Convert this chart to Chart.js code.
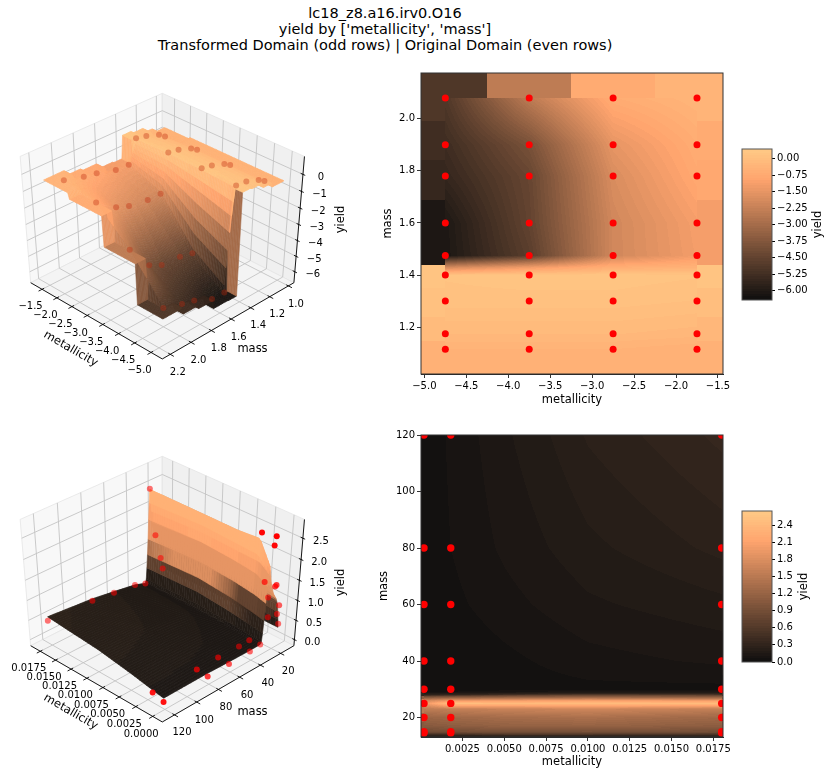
<!DOCTYPE html>
<html>
<head>
<meta charset="utf-8">
<script src="https://cdn.jsdelivr.net/npm/chart.js@4/dist/chart.umd.min.js"></script>
<style>
  html, body { margin: 0; background: #fff; }
  body { width: 830px; height: 775px; position: relative; overflow: hidden; font-family: "DejaVu Sans", sans-serif; }
  canvas { position: absolute; }
  #title { position: absolute; left: 0; top: 5px; width: 770px; text-align: center; font-size: 14.5px; line-height: 16px; color: #000; }
</style>
</head>
<body>
<div id="title">lc18_z8.a16.irv0.O16<br>yield by ['metallicity', 'mass']<br>Transformed Domain (odd rows) | Original Domain (even rows)</div>
<canvas id="surfTop" width="370" height="340" style="left:0;top:60px"></canvas>
<canvas id="mapTop" width="355" height="348" style="left:380px;top:60px"></canvas>
<canvas id="barTop" width="90" height="170" style="left:740px;top:140px"></canvas>
<canvas id="surfBottom" width="370" height="340" style="left:0;top:423px"></canvas>
<canvas id="mapBottom" width="359" height="345" style="left:376px;top:425px"></canvas>
<canvas id="barBottom" width="90" height="170" style="left:740px;top:502px"></canvas>
<script>
// transformed domain
const topMetallicity = [-4.75, -3.75, -2.75, -1.75];
const topDotMass = [1.115, 1.175, 1.3, 1.4, 1.475, 1.6, 1.78, 1.9, 2.08];
const topKnotMass = [1.115, 1.175, 1.3, 1.4, 1.43, 1.475, 1.6, 1.78, 1.9, 2.08];
const topYield = [
  [-0.42, -0.42, -0.42, -0.52],
  [-0.18, -0.18, -0.18, -0.25],
  [0.10, 0.10, 0.10, 0.03],
  [0.17, 0.23, 0.23, 0.17],
  [-1.96, -1.28, -0.59, -0.45],
  [-6.12, -4.70, -2.00, -1.20],
  [-6.09, -4.50, -2.00, -1.14],
  [-5.54, -4.40, -1.80, -0.80],
  [-5.33, -4.00, -1.50, -0.66],
  [-4.92, -2.45, -0.66, -0.32]
];
const topXTicks = [-5, -4.5, -4, -3.5, -3, -2.5, -2, -1.5];
const topYTicks = [1.2, 1.4, 1.6, 1.8, 2.0];
const topBarTicks = [0, -0.75, -1.5, -2.25, -3, -3.75, -4.5, -5.25, -6];
const topZTicks = [0, -1, -2, -3, -4, -5, -6];
const topSurfMass = [1.0, 1.2, 1.4, 1.6, 1.8, 2.0, 2.2];

// original domain
const bottomMetallicity = [0.0002, 0.0018, 0.005, 0.01, 0.018];
const bottomDotMetallicity = [0.0002, 0.0018, 0.018];
const bottomDotMass = [14.5, 15, 20, 25, 30, 40, 60, 80, 120];
const bottomKnotMass = [13, 14, 15, 17, 20, 23, 25, 26, 27, 28, 29, 30, 40, 60, 80, 120];
const bottomYield = [
  [0.27, 0.27, 0.32, 0.34, 0.32],
  [0.58, 0.61, 0.66, 0.66, 0.64],
  [0.87, 0.90, 0.93, 0.95, 0.90],
  [1.06, 1.11, 1.17, 1.19, 1.11],
  [1.22, 1.27, 1.33, 1.38, 1.27],
  [1.54, 1.59, 1.64, 1.70, 1.59],
  [1.95, 2.50, 2.45, 2.45, 2.45],
  [1.70, 1.95, 2.01, 2.07, 1.99],
  [1.11, 1.19, 1.27, 1.33, 1.27],
  [0.48, 0.53, 0.64, 0.74, 0.69],
  [0.13, 0.16, 0.21, 0.27, 0.24],
  [0.08, 0.08, 0.11, 0.13, 0.13],
  [0.08, 0.09, 0.13, 0.19, 0.23],
  [0.09, 0.13, 0.19, 0.27, 0.33],
  [0.11, 0.15, 0.23, 0.33, 0.42],
  [0.11, 0.16, 0.27, 0.41, 0.53]
];
const bottomXTicks = [0.0025, 0.005, 0.0075, 0.01, 0.0125, 0.015, 0.0175];
const bottomYTicks = [20, 40, 60, 80, 100, 120];
const bottomBarTicks = [0, 0.3, 0.6, 0.9, 1.2, 1.5, 1.8, 2.1, 2.4];
const bottomSurfX = [0, 0.0025, 0.005, 0.0075, 0.01, 0.0125, 0.015, 0.0175];
const bottomSurfMass = [20, 40, 60, 80, 100, 120];
const bottomZTicks = [0, 0.5, 1, 1.5, 2, 2.5];
// measured scatter of the lower 3D panel
const scatterMetallicity = [
  0.018, 0.018, 0.018, 0.018, 0.018, 0.018, 0.018, 0.018, 0.018,
  0.0018, 0.0018, 0.0018, 0.0018, 0.0018, 0.0018, 0.0018, 0.0018, 0.0018,
  0.0002, 0.0002, 0.0002, 0.0002, 0.0002, 0.0002, 0.0002, 0.0002, 0.0002, 0.0002, 0.0002, 0.0002
];
const scatterMass = [
  120, 80, 60, 40, 30, 25, 20, 15, 13,
  120, 80, 60, 40, 30, 23.5, 18, 13.5, 12.5,
  120, 80, 60, 40, 30, 22, 20.6, 18.8, 17.5, 15, 13.4, 13
];
const scatterYield = [
  0.43, 0.37, 0.30, 0.23, 0.13, 2.45, 1.25, 0.60, 0.30,
  0.10, 0.05, 0.05, 0.03, 0.04, 2.60, 1.35, 0.90, 0.38,
  0.01, 0.02, 0.03, 0.05, 0.08, 2.40, 2.60, 1.38, 1.40, 0.64, 0.84, 0.36
];
// colour of the lower surface follows height unevenly
const toneYield = [0, 0.1, 0.55, 0.65, 1.0, 1.08, 1.8, 2.0, 2.4];
const toneLevel = [0.02, 0.05, 0.10, 0.26, 0.28, 0.68, 0.74, 0.82, 0.88];
// and the lower map is darker than its low yields suggest
const mapToneYield = [0, 0.13, 0.33, 0.53, 0.8, 2.65];
const mapToneLevel = [0.0, 0.02, 0.07, 0.13, 0.30, 1.0];

const BAR_LEVELS = 60;
const topRange = [-6.43, 0.44];
const bottomRange = [0, 2.65];
const tickFont = { family: 'DejaVu Sans', size: 10 };
const labelFont = { family: 'DejaVu Sans', size: 11.5 };

function copper(v, range) {
  let t = (v - range[0]) / (range[1] - range[0]);
  t = Math.max(0, Math.min(1, Math.round(t * BAR_LEVELS) / BAR_LEVELS));
  const shade = a => 14 + Math.min(1, a) * 241;
  return [shade(1.25 * t), shade(0.7812 * t), shade(0.4975 * t)];
}

function nearestIndex(list, v) {
  let best = 0;
  list.forEach((p, i) => { if (Math.abs(p - v) < Math.abs(list[best] - v)) best = i; });
  return best;
}

function bracket(list, v) {
  let i = 0;
  while (i < list.length - 2 && v > list[i + 1]) i++;
  return i;
}

// griddata look: linear inside the samples, nearest sample outside
function fieldAt(table, x, y) {
  const { xs, ys, zs, nearY } = table;
  if (x < xs[0] || x > xs[xs.length - 1] || y < ys[0] || y > ys[ys.length - 1]) {
    const row = ys.indexOf(nearY[nearestIndex(nearY, y)]);
    return zs[row][nearestIndex(xs, x)];
  }
  const i = bracket(xs, x), j = bracket(ys, y);
  const a = (x - xs[i]) / (xs[i + 1] - xs[i]), b = (y - ys[j]) / (ys[j + 1] - ys[j]);
  return (zs[j][i] * (1 - a) + zs[j][i + 1] * a) * (1 - b) + (zs[j + 1][i] * (1 - a) + zs[j + 1][i + 1] * a) * b;
}

const topTable = { xs: topMetallicity, ys: topKnotMass, zs: topYield, nearY: topDotMass };
const bottomTable = { xs: bottomMetallicity, ys: bottomKnotMass, zs: bottomYield, nearY: bottomKnotMass };

function fmt(d) {
  return v => v.toFixed(d).replace('-', '\u2212');
}

function toneOf(v, from, to) {
  if (v <= from[0]) return to[0];
  const i = bracket(from, v);
  const a = Math.min(1, (v - from[i]) / (from[i + 1] - from[i]));
  return to[i] + (to[i + 1] - to[i]) * a;
}

function axisBox(ticks, digits, title, fit) {
  return {
    type: 'linear',
    afterBuildTicks: s => { s.ticks = ticks.map(v => ({ value: v })); },
    afterFit: fit,
    grid: { display: true, drawOnChartArea: false, drawTicks: true, tickLength: 4, tickColor: '#000', tickWidth: 0.8 },
    border: { color: '#222', width: 1 },
    ticks: { color: '#000', font: tickFont, padding: 2, maxRotation: 0, autoSkip: false, callback: fmt(digits) },
    title: { display: true, text: title, color: '#000', font: labelFont, padding: { top: 1, bottom: 1 } }
  };
}

const heatPlugin = {
  id: 'heat',
  beforeDatasetsDraw(chart, args, opts) {
    const { ctx, chartArea: a, scales } = chart;
    const w = Math.round(a.right - a.left), h = Math.round(a.bottom - a.top);
    const img = ctx.createImageData(w, h);
    const span = opts.range[1] - opts.range[0];
    for (let py = 0; py < h; py++) {
      const my = scales.y.getValueForPixel(a.top + py + 0.5);
      for (let px = 0; px < w; px++) {
        const mx = scales.x.getValueForPixel(a.left + px + 0.5);
        let v = fieldAt(opts.table, mx, my);
        if (opts.toned) v = opts.range[0] + toneOf(v, mapToneYield, mapToneLevel) * span;
        const c = copper(v, opts.range);
        const k = (py * w + px) * 4;
        img.data[k] = c[0]; img.data[k + 1] = c[1]; img.data[k + 2] = c[2]; img.data[k + 3] = 255;
      }
    }
    ctx.putImageData(img, Math.round(a.left), Math.round(a.top));
  },
  afterDraw(chart) {
    const { ctx, chartArea: a } = chart;
    ctx.strokeStyle = '#333';
    ctx.lineWidth = 1;
    ctx.strokeRect(a.left, a.top, a.right - a.left, a.bottom - a.top);
  }
};

function makeMap(id, table, range, dotX, dotY, xCfg, yCfg, margin) {
  const points = [];
  dotY.forEach(m => dotX.forEach(x => points.push({ x, y: m })));
  new Chart(document.getElementById(id), {
    type: 'scatter',
    data: { datasets: [{ data: points, pointRadius: margin.dot, pointBackgroundColor: '#ff0000', pointBorderWidth: 0 }] },
    plugins: [heatPlugin],
    options: {
      responsive: false, animation: false, devicePixelRatio: 1,
      layout: { autoPadding: false, padding: { top: margin.top, right: margin.right, left: 0, bottom: 0 } },
      plugins: { legend: { display: false }, tooltip: { enabled: false }, heat: { table, range, toned: margin.toned } },
      scales: {
        x: Object.assign(axisBox(xCfg.ticks, xCfg.digits, 'metallicity', s => { s.height = margin.bottom; }), { min: xCfg.min, max: xCfg.max }),
        y: Object.assign(axisBox(yCfg.ticks, yCfg.digits, 'mass', s => { s.width = margin.left; }), { min: yCfg.min, max: yCfg.max })
      }
    }
  });
}

const barPlugin = {
  id: 'bar',
  beforeDatasetsDraw(chart, args, opts) {
    const { ctx, chartArea: a, scales } = chart;
    for (let py = Math.round(a.top); py < a.bottom; py++) {
      const c = copper(scales.y.getValueForPixel(py + 0.5), opts.range);
      ctx.fillStyle = `rgb(${c[0]},${c[1]},${c[2]})`;
      ctx.fillRect(a.left, py, a.right - a.left, 1);
    }
  },
  afterDraw(chart, args, opts) {
    const { ctx, chartArea: a } = chart;
    ctx.strokeStyle = '#555';
    ctx.lineWidth = 1;
    ctx.strokeRect(a.left, a.top, a.right - a.left, a.bottom - a.top);
    ctx.save();
    ctx.translate(opts.labelX, (a.top + a.bottom) / 2);
    ctx.rotate(-Math.PI / 2);
    ctx.font = '11.5px "DejaVu Sans"';
    ctx.fillStyle = '#000';
    ctx.textAlign = 'center';
    ctx.textBaseline = 'middle';
    ctx.fillText('yield', 0, 0);
    ctx.restore();
  }
};

function makeBar(id, range, ticks, digits, top, labelX) {
  new Chart(document.getElementById(id), {
    type: 'scatter',
    data: { datasets: [{ data: [] }] },
    plugins: [barPlugin],
    options: {
      responsive: false, animation: false, devicePixelRatio: 1,
      layout: { autoPadding: false, padding: { top, left: 2, right: 0, bottom: 170 - top - 151 } },
      plugins: { legend: { display: false }, tooltip: { enabled: false }, bar: { range, labelX } },
      scales: {
        x: { display: false, min: 0, max: 1 },
        y: {
          position: 'right', min: range[0], max: range[1],
          afterBuildTicks: s => { s.ticks = ticks.map(v => ({ value: v })); },
          afterFit: s => { s.width = 58; },
          grid: { display: true, drawOnChartArea: false, tickLength: 3, tickColor: '#000' },
          border: { display: false },
          ticks: { color: '#000', font: tickFont, padding: 2, autoSkip: false, callback: fmt(digits) }
        }
      }
    }
  });
}

// same camera for both 3D panels: seen from low metallicity, high mass side
const ELEV = 38 * Math.PI / 180, DIST = 8, R = Math.SQRT1_2;
const SCALE_X = 193.3, SCALE_Y = 160, CENTER_X = 162.3, CENTER_Y = 162;

function viewUnit(nx, ny, nz) {
  const px = nx - 0.5, py = ny - 0.5, pz = nz - 0.5;
  const u = -R * (px + py);
  const v = Math.sin(ELEV) * R * (px - py) + Math.cos(ELEV) * pz;
  const w = Math.cos(ELEV) * R * (py - px) + Math.sin(ELEV) * pz;
  const f = DIST / (DIST - w);
  return { x: u * f, y: v * f, depth: w };
}

function surfacePlugin(cfg) {
  const normX = v => (v - cfg.xlim[0]) / (cfg.xlim[1] - cfg.xlim[0]);
  const normY = v => (v - cfg.ylim[0]) / (cfg.ylim[1] - cfg.ylim[0]);
  const normZ = v => (v - cfg.zlim[0]) / (cfg.zlim[1] - cfg.zlim[0]);
  return {
    id: 'surface',
    beforeDatasetsDraw(chart) {
      const { ctx, scales } = chart;
      const pt = (nx, ny, nz) => {
        const p = viewUnit(nx, ny, nz);
        return [scales.x.getPixelForValue(p.x), scales.y.getPixelForValue(p.y)];
      };
      const poly = (list, fill, stroke) => {
        ctx.beginPath();
        list.forEach((p, i) => { const q = pt(p[0], p[1], p[2]); i ? ctx.lineTo(q[0], q[1]) : ctx.moveTo(q[0], q[1]); });
        ctx.closePath();
        if (fill) { ctx.fillStyle = fill; ctx.fill(); }
        if (stroke) { ctx.strokeStyle = stroke; ctx.stroke(); }
      };
      const seg = (a, b, color, width) => {
        const p = pt(a[0], a[1], a[2]), q = pt(b[0], b[1], b[2]);
        ctx.strokeStyle = color; ctx.lineWidth = width;
        ctx.beginPath(); ctx.moveTo(p[0], p[1]); ctx.lineTo(q[0], q[1]); ctx.stroke();
      };

      // panes
      ctx.lineWidth = 0.8;
      poly([[1, 0, 0], [1, 1, 0], [1, 1, 1], [1, 0, 1]], '#f8f8f8', '#e4e4e4');
      poly([[0, 0, 0], [1, 0, 0], [1, 0, 1], [0, 0, 1]], '#f0f0f0', '#e4e4e4');
      poly([[0, 0, 0], [1, 0, 0], [1, 1, 0], [0, 1, 0]], '#f4f4f4', '#e4e4e4');

      // grid
      const gridColor = '#c4c4c4';
      cfg.xTicks.forEach(v => {
        const n = normX(v);
        seg([n, 1, 0], [n, 0, 0], gridColor, 0.9);
        seg([n, 0, 0], [n, 0, 1], gridColor, 0.9);
      });
      cfg.yTicks.forEach(v => {
        const n = normY(v);
        seg([0, n, 0], [1, n, 0], gridColor, 0.9);
        seg([1, n, 0], [1, n, 1], gridColor, 0.9);
      });
      cfg.zTicks.forEach(v => {
        const n = normZ(v);
        seg([1, 1, n], [1, 0, n], gridColor, 0.9);
        seg([1, 0, n], [0, 0, n], gridColor, 0.9);
      });

      // axis lines, ticks, labels
      seg([0, 1, 0], [1, 1, 0], '#000', 0.9);
      seg([0, 1, 0], [0, 0, 0], '#000', 0.9);
      seg([0, 0, 0], [0, 0, 1], '#000', 0.9);
      ctx.font = '10px "DejaVu Sans"';
      ctx.fillStyle = '#000';
      ctx.textAlign = 'center';
      ctx.textBaseline = 'middle';
      const fx = fmt(cfg.xDigits), fy = fmt(cfg.yDigits), fz = fmt(cfg.zDigits);
      cfg.xTicks.forEach(v => {
        const n = normX(v);
        seg([n, 0.985, 0], [n, 1.025, 0], '#000', 0.9);
        const q = pt(n, 1, 0);
        ctx.fillText(fx(v), q[0] - 11.5, q[1] + 17.5);
      });
      cfg.yTicks.forEach(v => {
        const n = normY(v);
        seg([0.015, n, 0], [-0.025, n, 0], '#000', 0.9);
        const q = pt(0, n, 0);
        ctx.fillText(fy(v), q[0] + 7.5, q[1] + 18);
      });
      cfg.zTicks.forEach(v => {
        const n = normZ(v);
        seg([0.015, 0, n], [-0.015, 0, n], '#000', 0.9);
        const q = pt(0, 0, n);
        ctx.fillText(fz(v), q[0] + 18, q[1] + 3);
      });
      ctx.font = '11.5px "DejaVu Sans"';
      ctx.fillText('mass', 252.5, 289);
      ctx.save(); ctx.translate(70.7, 289); ctx.rotate(Math.PI / 6); ctx.fillText('metallicity', 0, 0); ctx.restore();
      ctx.save(); ctx.translate(341.5, 159.5); ctx.rotate(-Math.PI / 2); ctx.fillText('yield', 0, 0); ctx.restore();

      // surface quads, far to near
      const quads = [];
      const dx = (cfg.spanX[1] - cfg.spanX[0]) / cfg.meshX, dy = (cfg.spanY[1] - cfg.spanY[0]) / cfg.meshY;
      for (let i = 0; i < cfg.meshX; i++) {
        for (let j = 0; j < cfg.meshY; j++) {
          const xa = cfg.spanX[0] + i * dx, ya = cfg.spanY[0] + j * dy;
          const corners = [[xa, ya], [xa + dx, ya], [xa + dx, ya + dy], [xa, ya + dy]];
          const zv = corners.map(c => fieldAt(cfg.table, c[0], c[1]));
          const list = corners.map((c, k) => [normX(c[0]), normY(c[1]), normZ(zv[k])]);
          const mean = zv.reduce((s, v) => s + v, 0) / 4;
          const depth = list.reduce((s, p) => s + viewUnit(p[0], p[1], p[2]).depth, 0) / 4;
          quads.push({ list, mean, depth });
        }
      }
      quads.sort((a, b) => a.depth - b.depth);
      ctx.lineWidth = 0.6;
      quads.forEach(q => {
        const v = cfg.tone ? cfg.range[0] + toneOf(q.mean, toneYield, toneLevel) * (cfg.range[1] - cfg.range[0]) : q.mean;
        const c = copper(v, cfg.range);
        const color = `rgb(${c[0]},${c[1]},${c[2]})`;
        poly(q.list, color, color);
      });
    }
  };
}

function makeSurface(id, cfg, dots) {
  const normX = v => (v - cfg.xlim[0]) / (cfg.xlim[1] - cfg.xlim[0]);
  const normY = v => (v - cfg.ylim[0]) / (cfg.ylim[1] - cfg.ylim[0]);
  const normZ = v => (v - cfg.zlim[0]) / (cfg.zlim[1] - cfg.zlim[0]);
  const pts = dots.map(d => viewUnit(normX(d[0]), normY(d[1]), normZ(d[2])));
  const c = document.getElementById(id);
  new Chart(c, {
    type: 'scatter',
    data: { datasets: [{
      data: pts.map(p => ({ x: p.x, y: p.y })),
      pointRadius: 3, pointBorderWidth: 0,
      pointBackgroundColor: pts.map(p => cfg.dotColor(p.depth))
    }] },
    plugins: [surfacePlugin(cfg)],
    options: {
      responsive: false, animation: false, devicePixelRatio: 1,
      layout: { autoPadding: false, padding: 0 },
      plugins: { legend: { display: false }, tooltip: { enabled: false } },
      scales: {
        x: { display: false, min: -CENTER_X / SCALE_X, max: (c.width - CENTER_X) / SCALE_X },
        y: { display: false, min: -(c.height - CENTER_Y) / SCALE_Y, max: CENTER_Y / SCALE_Y }
      }
    }
  });
}

const topDots = [];
topDotMass.forEach(m => topMetallicity.forEach((x, i) => {
  topDots.push([x, m, topYield[topKnotMass.indexOf(m)][i]]);
}));
const bottomDots = scatterMetallicity.map((x, i) => [x, scatterMass[i], scatterYield[i]]);

makeSurface('surfTop', {
  xlim: [-5.34, -1.11], ylim: [0.94, 2.276], zlim: [-6.72, 1.03],
  spanX: [-5.04, -1.44], spanY: [1.02, 2.176], meshX: 80, meshY: 100,
  table: topTable, range: topRange,
  xTicks: topXTicks, yTicks: topSurfMass, zTicks: topZTicks, xDigits: 1, yDigits: 1, zDigits: 0,
  dotColor: () => 'rgba(190,40,10,0.36)'
}, topDots);

makeSurface('surfBottom', {
  xlim: [-0.0014, 0.0191], ylim: [6.7, 130.8], zlim: [-0.16, 2.93],
  spanX: [0.0002, 0.018], spanY: [13, 120], meshX: 50, meshY: 160,
  table: bottomTable, range: bottomRange, tone: true,
  xTicks: bottomSurfX, yTicks: bottomSurfMass, zTicks: bottomZTicks, xDigits: 4, yDigits: 0, zDigits: 1,
  dotColor: d => `rgba(255,0,0,${Math.max(0.55, Math.min(1, 0.75 + d))})`
}, bottomDots);

makeMap('mapTop', topTable, topRange, topMetallicity, topDotMass,
  { ticks: topXTicks, digits: 1, min: -5.04, max: -1.44 },
  { ticks: topYTicks, digits: 1, min: 1.02, max: 2.176 },
  { left: 41, top: 13, right: 12, bottom: 34, dot: 3.5 });

makeMap('mapBottom', bottomTable, bottomRange, bottomDotMetallicity, bottomDotMass,
  { ticks: bottomXTicks, digits: 4, min: 0.00002, max: 0.01808 },
  { ticks: bottomYTicks, digits: 0, min: 13.1, max: 120 },
  { left: 45, top: 10, right: 12, bottom: 33, dot: 3.7, toned: true });

makeBar('barTop', topRange, topBarTicks, 2, 9, 78);
makeBar('barBottom', bottomRange, bottomBarTicks, 1, 9, 64);
</script>
</body>
</html>
